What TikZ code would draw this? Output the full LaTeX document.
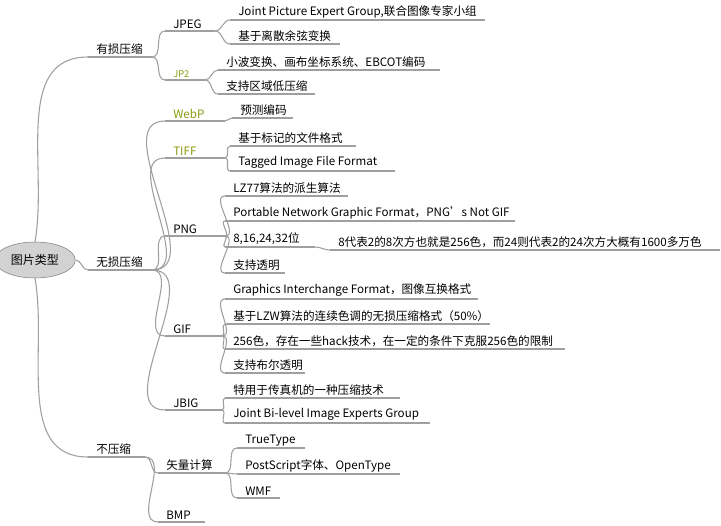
\documentclass[tikz,border=0pt]{standalone}
\usepackage{fontspec}
\setmainfont{Noto Sans CJK SC}
\usetikzlibrary{shapes.geometric}
\definecolor{olivetxt}{HTML}{8A9A10}
\tikzset{
	branch/.style={draw=gray!75, line width=0.8pt},
	topic/.style={anchor=south west, inner xsep=3pt, inner ysep=1.5pt, font=\fontsize{8.7}{10}\selectfont},
	root/.style={ellipse, draw=gray, fill=gray!35, minimum width=51pt, minimum height=27pt, font=\fontsize{9}{10}\selectfont}
}
% topic with underline: [colour]{name}{x1}{x2}{y}{text}
\newcommand{\topic}[6][black]{%
	\coordinate (#2-l) at (#3,#5);
	\coordinate (#2-r) at (#4,#5);
	\node[topic, text=#1] (#2) at ([xshift=3pt]#2-l) {#6};
	\draw[branch] (#2-l) -- (#2-r);}
\newcommand{\link}[2]{\draw[branch] (#1-r) to[out=0,in=180] (#2-l);}

\begin{document}
\begin{tikzpicture}[x=0.75pt, y=-0.75pt]
	\useasboundingbox (0,0) rectangle (721,525);
	
	% root
	\node[root] (root) at (35,260) {图片类型};
	
	% first level
	\topic{lossy}{88}{152}{57}{有损压缩}
	\topic{lossless}{88}{152}{270}{无损压缩}
	\topic{raw}{88}{145}{457}{不压缩}
	\draw[branch] (root.north) to[out=80,in=180] (lossy-l);
	\draw[branch] (root.east) to[out=0,in=180] (lossless-l);
	\draw[branch] (root.south) to[out=-80,in=180] (raw-l);
	
	% lossy
	\topic{jpeg}{165}{215}{31}{JPEG}
	\topic[olivetxt]{jp2}{165}{205}{80}{\fontsize{7}{9}\selectfont JP2}
	\link{lossy}{jpeg}
	\link{lossy}{jp2}
	\topic{jpega}{230}{485}{20}{Joint Picture Expert Group,联合图像专家小组}
	\topic{jpegb}{230}{340}{44}{基于离散余弦变换}
	\link{jpeg}{jpega}
	\link{jpeg}{jpegb}
	\topic{jpta}{218}{440}{70}{小波变换、画布坐标系统、EBCOT编码}
	\topic{jptb}{218}{315}{94}{支持区域低压缩}
	\link{jp2}{jpta}
	\link{jp2}{jptb}
	
	% lossless
	\topic[olivetxt]{webp}{165}{225}{121}{WebP}
	\topic[olivetxt]{tiff}{165}{225}{158}{TIFF}
	\topic{png}{165}{225}{236}{PNG}
	\topic{gif}{165}{222}{336}{GIF}
	\topic{jbig}{165}{222}{410}{JBIG}
	\foreach \c in {webp,tiff,png,gif,jbig} {\link{lossless}{\c}}
	
	\topic{webpa}{232}{293}{118}{预测编码}
	\link{webp}{webpa}
	
	\topic{tiffa}{230}{356}{146}{基于标记的文件格式}
	\topic{tiffb}{230}{395}{171}{Tagged Image File Format}
	\link{tiff}{tiffa}
	\link{tiff}{tiffb}
	
	\topic{pnga}{225}{348}{196}{LZ77算法的派生算法}
	\topic{pngb}{225}{515}{221}{Portable Network Graphic Format，PNG\symbol{39}s Not GIF}
	\topic{pngc}{225}{315}{247}{8,16,24,32位}
	\topic{pngd}{225}{285}{273}{支持透明}
	\foreach \c in {pnga,pngb,pngc,pngd} {\link{png}{\c}}
	\topic{pngca}{330}{720}{250}{8代表2的8次方也就是256色，而24则代表2的24次方大概有1600多万色}
	\link{pngc}{pngca}
	
	\topic{gifa}{225}{478}{299}{Graphics Interchange Format，图像互换格式}
	\topic{gifb}{225}{490}{324}{基于LZW算法的连续色调的无损压缩格式（50\%）}
	\topic{gifc}{225}{565}{349}{256色，存在一些hack技术，在一定的条件下克服256色的限制}
	\topic{gifd}{225}{305}{373}{支持布尔透明}
	\foreach \c in {gifa,gifb,gifc,gifd} {\link{gif}{\c}}
	
	\topic{jbiga}{225}{400}{398}{特用于传真机的一种压缩技术}
	\topic{jbigb}{225}{430}{423}{Joint Bi-level Image Experts Group}
	\link{jbig}{jbiga}
	\link{jbig}{jbigb}
	
	% uncompressed
	\topic{vec}{158}{225}{473}{矢量计算}
	\topic{bmp}{158}{205}{522}{BMP}
	\link{raw}{vec}
	\link{raw}{bmp}
	\topic{veca}{237}{305}{448}{TrueType}
	\topic{vecb}{237}{400}{474}{PostScript字体、OpenType}
	\topic{vecc}{237}{280}{498}{WMF}
	\foreach \c in {veca,vecb,vecc} {\link{vec}{\c}}
\end{tikzpicture}
\end{document}
